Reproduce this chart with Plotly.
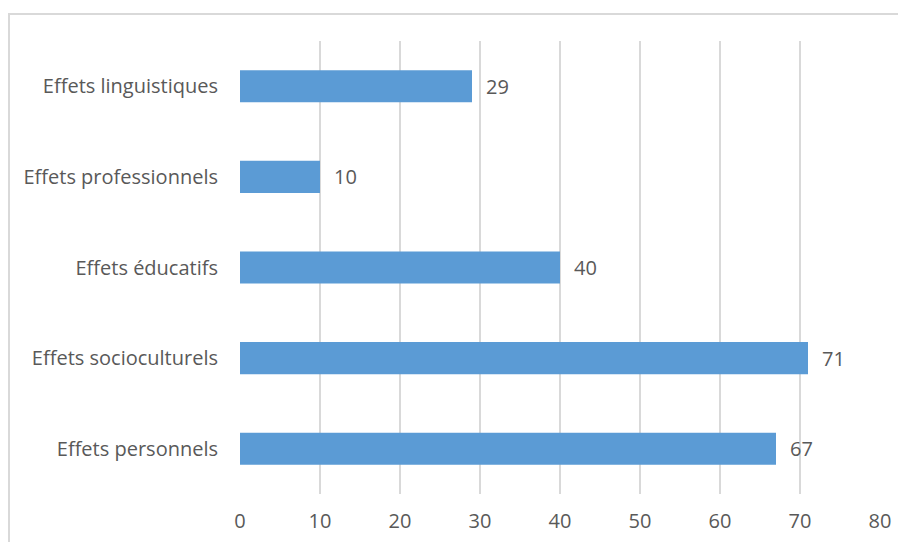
import plotly.graph_objects as go

categories = ["Effets linguistiques", "Effets professionnels", "Effets éducatifs",
              "Effets socioculturels", "Effets personnels"]
values = [29, 10, 40, 71, 67]
x_ticks = [0, 10, 20, 30, 40, 50, 60, 70, 80]

FONT = "Open Sans"
TXT = "#595959"

# page body has an 8px margin; figure is sized/offset to compensate
L, R, T, B = 232, 26, 33, 48
W, H = 898, 534
PW, PH = W - L - R, H - T - B

fig = go.Figure()
fig.add_trace(go.Bar(
    x=values, y=categories, orientation="h",
    marker=dict(color="#5B9BD5", line=dict(width=0)),
    width=0.354, showlegend=False,
))
for c, v in zip(categories, values):
    fig.add_annotation(x=v, y=c, text=str(v), showarrow=False,
                       xanchor="left", xshift=12,
                       font=dict(family=FONT, size=20, color=TXT))

fig.update_layout(
    width=W, height=H,
    margin=dict(l=L, r=R, t=T, b=B, autoexpand=False),
    paper_bgcolor="white", plot_bgcolor="white",
    font=dict(family=FONT, size=20, color=TXT),
    shapes=[dict(type="rect", xref="paper", yref="paper",
                 x0=(1 - L) / PW, x1=1.2, y0=-0.3, y1=1 + (T - 6) / PH,
                 line=dict(color="#d9d9d9", width=2), layer="below")],
)
fig.update_xaxes(range=[0, 80], tickvals=x_ticks, showgrid=True,
                 gridcolor="#d9d9d9", gridwidth=2, zeroline=False,
                 showline=False, ticks="outside", ticklen=9,
                 tickcolor="rgba(0,0,0,0)",
                 automargin=False,
                 tickfont=dict(family=FONT, size=20, color=TXT))
fig.update_yaxes(autorange="reversed", showgrid=False, zeroline=False,
                 showline=False, ticks="", ticklabelstandoff=21,
                 automargin=False,
                 tickfont=dict(family=FONT, size=20, color=TXT))

fig.write_html("out.html")
